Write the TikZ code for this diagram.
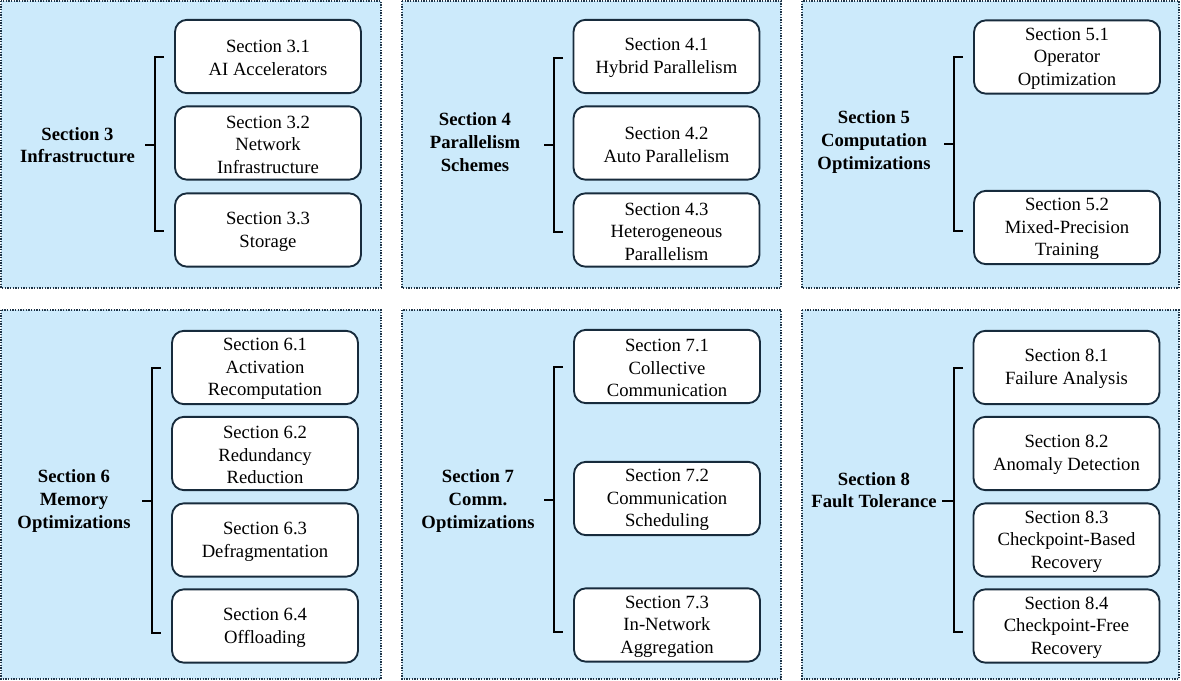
\documentclass[tikz,border=0pt]{standalone}
\usepackage{fontspec}
\setmainfont{Liberation Serif}
\definecolor{panelfill}{HTML}{CCEAFB}
\definecolor{paneldraw}{HTML}{1E3447}
\definecolor{boxdraw}{HTML}{172B3C}
\begin{document}
\begin{tikzpicture}[x=0.75pt,y=-0.75pt,
  panel/.style={draw=paneldraw, fill=panelfill, line width=1.1pt, dash pattern=on 1pt off 1pt},
  sbox/.style={draw=boxdraw, fill=white, line width=1.4pt, rounded corners=9pt,
    minimum width=139.5pt, minimum height=55pt, inner sep=0pt},
  btext/.style={yshift=-1.2pt, align=center, inner sep=0pt, font=\fontsize{14}{17}\selectfont},
  slabel/.style={align=center, inner sep=0pt, font=\fontsize{14}{17}\selectfont\bfseries},
  brk/.style={line width=1.5pt, draw=black}]
\useasboundingbox (0,0) rectangle (1181,681);
% panels
\path[panel] (1,1) rectangle (381,288);
\path[panel] (402,1) rectangle (781,288);
\path[panel] (802,1) rectangle (1179,288);
\path[panel] (1,310) rectangle (381,679);
\path[panel] (402,310) rectangle (781,679);
\path[panel] (802,310) rectangle (1179,679);

% Panel 1
\node[slabel] (s3) at (77.5,145) {Section 3\\Infrastructure};
\node[sbox] (s31) at (268,56.5) {};
\node[sbox] (s32) at (268,143) {};
\node[sbox] (s33) at (268,230) {};
\node[btext] (t31) at (s31) {Section 3.1\\AI Accelerators};
\node[btext] (t32) at (s32) {Section 3.2\\Network\\Infrastructure};
\node[btext] (t33) at (s33) {Section 3.3\\Storage};
\draw[brk] (164,57) -- (155,57) -- (155,231) -- (164,231);
\draw[brk] (155,145) -- (145,145);

% Panel 2
\node[slabel] (s4) at (475,142) {Section 4\\Parallelism\\Schemes};
\node[sbox] (s41) at (666.5,56.5) {};
\node[sbox] (s42) at (666.5,143) {};
\node[sbox] (s43) at (666.5,230) {};
\node[btext] (t41) at (s41) {Section 4.1\\Hybrid Parallelism};
\node[btext] (t42) at (s42) {Section 4.2\\Auto Parallelism};
\node[btext] (t43) at (s43) {Section 4.3\\Heterogeneous\\Parallelism};
\draw[brk] (563,58) -- (554,58) -- (554,232) -- (563,232);
\draw[brk] (554,145) -- (544,145);

% Panel 3
\node[slabel] (s5) at (874,142) {Section 5\\Computation\\Optimizations};
\node[sbox] (s51) at (1067,57) {};
\node[sbox] (s52) at (1067,227.5) {};
\node[btext] (t51) at (s51) {Section 5.1\\Operator\\Optimization};
\node[btext] (t52) at (s52) {Section 5.2\\Mixed-Precision\\Training};
\draw[brk] (963,57) -- (954,57) -- (954,231) -- (963,231);
\draw[brk] (954,144) -- (944,144);

% Panel 4
\node[slabel] (s6) at (74,501) {Section 6\\Memory\\Optimizations};
\node[sbox] (s61) at (265,367.5) {};
\node[sbox] (s62) at (265,453.5) {};
\node[sbox] (s63) at (265,540) {};
\node[sbox] (s64) at (265,626) {};
\node[btext] (t61) at (s61) {Section 6.1\\Activation\\Recomputation};
\node[btext] (t62) at (s62) {Section 6.2\\Redundancy\\Reduction};
\node[btext] (t63) at (s63) {Section 6.3\\Defragmentation};
\node[btext] (t64) at (s64) {Section 6.4\\Offloading};
\draw[brk] (161,368) -- (152,368) -- (152,633) -- (161,633);
\draw[brk] (152,501) -- (142,501);

% Panel 5
\node[slabel] (s7) at (478,501) {Section 7\\Comm.\\Optimizations};
\node[sbox] (s71) at (667,366.5) {};
\node[sbox] (s72) at (667,498.5) {};
\node[sbox] (s73) at (667,625) {};
\node[btext] (t71) at (s71) {Section 7.1\\Collective\\Communication};
\node[btext] (t72) at (s72) {Section 7.2\\Communication\\Scheduling};
\node[btext] (t73) at (s73) {Section 7.3\\In-Network\\Aggregation};
\draw[brk] (563,367) -- (554,367) -- (554,632) -- (563,632);
\draw[brk] (554,500) -- (544,500);

% Panel 6
\node[slabel] (s8) at (874,490) {Section 8\\Fault Tolerance};
\node[sbox] (s81) at (1066.5,367.5) {};
\node[sbox] (s82) at (1066.5,453.5) {};
\node[sbox] (s83) at (1066.5,540) {};
\node[sbox] (s84) at (1066.5,626) {};
\node[btext] (t81) at (s81) {Section 8.1\\Failure Analysis};
\node[btext] (t82) at (s82) {Section 8.2\\Anomaly Detection};
\node[btext] (t83) at (s83) {Section 8.3\\Checkpoint-Based\\Recovery};
\node[btext] (t84) at (s84) {Section 8.4\\Checkpoint-Free\\Recovery};
\draw[brk] (963,368) -- (954,368) -- (954,632) -- (963,632);
\draw[brk] (954,501) -- (942,501);
\end{tikzpicture}
\end{document}
